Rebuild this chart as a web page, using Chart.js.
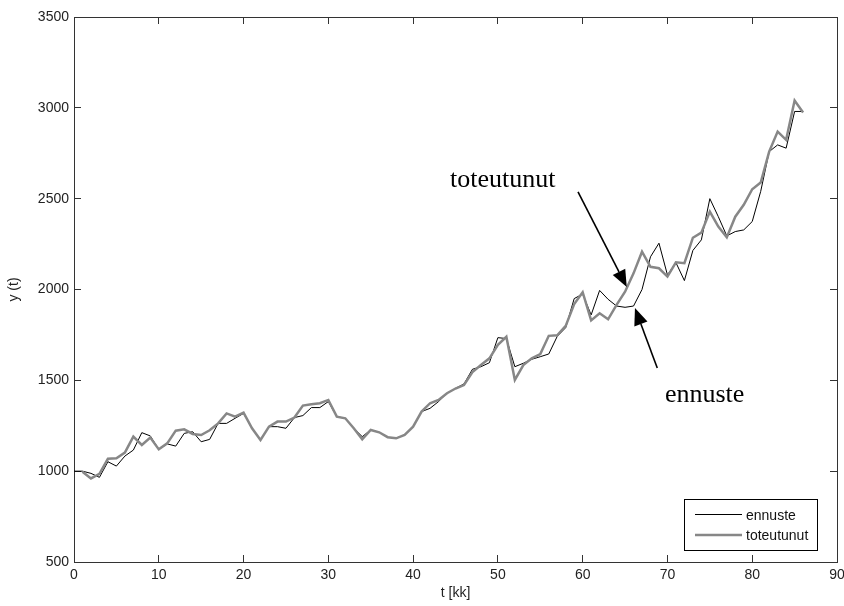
<!DOCTYPE html>
<html><head><meta charset="utf-8">
<script src="https://cdn.jsdelivr.net/npm/chart.js@4.4.0/dist/chart.umd.min.js"></script>
<style>html,body{margin:0;padding:0;background:#fff}#wrap{width:844px;height:606px}</style>
</head><body><div id="wrap"><canvas id="c" width="844" height="606"></canvas></div>
<script>
// ---- data ----
const tForecast = [0,1,2,3,4,5,6,7,8,9,10,11,12,13,14,15,16,17,18,19,20,21,22,23,24,25,26,27,28,29,30,31,32,33,34,35,36,37,38,39,40,41,42,43,44,45,46,47,48,49,50,51,52,53,54,55,56,57,58,59,60,61,62,63,64,65,66,67,68,69,70,71,72,73,74,75,76,77,78,79,80,81,82,83,84,85,86];
const ennuste = [1000,1000,988,966,1052,1028,1083,1116,1212,1194,
  1120,1150,1138,1208,1217,1162,1175,1263,1263,1291,
  1318,1236,1172,1245,1245,1236,1295,1306,1350,1350,
  1383,1300,1291,1236,1190,1227,1214,1187,1181,1200,
  1245,1328,1346,1383,1429,1456,1480,1561,1575,1597,
  1735,1730,1575,1594,1616,1630,1645,1742,1790,1950,
  1975,1860,1995,1946,1909,1902,1909,2000,2180,2255,
  2080,2148,2049,2215,2273,2500,2401,2295,2319,2328,
  2374,2540,2759,2796,2778,2980,2980];
const tActual = [1,2,3,4,5,6,7,8,9,10,11,12,13,14,15,16,17,18,19,20,21,22,23,24,25,26,27,28,29,30,31,32,33,34,35,36,37,38,39,40,41,42,43,44,45,46,47,48,49,50,51,52,53,54,55,56,57,58,59,60,61,62,63,64,65,66,67,68,69,70,71,72,73,74,75,76,77,78,79,80,81,82,83,84,85,86];
const toteutunut = [997,960,985,1068,1071,1102,1190,1144,1185,1120,
  1153,1223,1230,1205,1199,1225,1263,1318,1300,1322,
  1236,1172,1245,1273,1273,1295,1361,1368,1374,1392,
  1300,1291,1236,1176,1227,1214,1187,1181,1200,1245,
  1328,1374,1392,1429,1455,1474,1545,1584,1621,1695,
  1740,1502,1584,1621,1645,1745,1748,1800,1920,1985,
  1830,1869,1836,1915,1988,2089,2208,2125,2117,2071,
  2150,2145,2285,2313,2429,2346,2287,2401,2466,2552,
  2589,2759,2869,2824,3040,2974];
const xTicks = [0,10,20,30,40,50,60,70,80,90];
const yTicks = [500,1000,1500,2000,2500,3000,3500];
const seriesNames = ['ennuste','toteutunut'];
const xTitle = 't [kk]';
const yTitle = 'y (t)';
const noteActual = 'toteutunut';
const noteForecast = 'ennuste';

// ---- styling ----
const AXIS = '#333';
const SANS = '"Liberation Sans", Arial, sans-serif';
const SERIF = '"Liberation Serif", "Times New Roman", serif';
const GRAY = '#878787';

const pts = (xs, ys) => xs.map((x, i) => ({x, y: ys[i]}));
const setTicks = list => scale => { scale.ticks = list.map(v => ({value: v})); };
const plain = v => String(v);
const tickGrid = {display: true, drawOnChartArea: false, drawTicks: true, tickLength: -7, color: AXIS, lineWidth: 1};
const noPad = s => { s.paddingLeft = 0; s.paddingRight = 0; s.paddingTop = 0; s.paddingBottom = 0; };

const overlay = {
  id: 'overlay',
  afterDraw(chart) {
    const {ctx} = chart;
    const xs = chart.scales.x, ys = chart.scales.y;
    const P = (t, v) => [xs.getPixelForValue(t), ys.getPixelForValue(v)];
    ctx.save();
    ctx.fillStyle = '#000';
    ctx.font = '26px ' + SERIF;
    ctx.textBaseline = 'alphabetic';
    ctx.textAlign = 'left';
    let p = P(44.35, 2564); ctx.fillText(noteActual, p[0], p[1]);
    p = P(69.7, 1381); ctx.fillText(noteForecast, p[0], p[1]);
    const arrow = (a, b) => {
      const [x1, y1] = P(a[0], a[1]); const [x2, y2] = P(b[0], b[1]);
      const ang = Math.atan2(y2 - y1, x2 - x1);
      const L = 17, W = 7;
      const bx = x2 - L * Math.cos(ang), by = y2 - L * Math.sin(ang);
      ctx.strokeStyle = '#000'; ctx.lineWidth = 1.6;
      ctx.beginPath(); ctx.moveTo(x1, y1); ctx.lineTo(bx, by); ctx.stroke();
      ctx.beginPath();
      ctx.moveTo(x2, y2);
      ctx.lineTo(bx + W * Math.sin(ang), by - W * Math.cos(ang));
      ctx.lineTo(bx - W * Math.sin(ang), by + W * Math.cos(ang));
      ctx.closePath(); ctx.fillStyle = '#000'; ctx.fill();
    };
    arrow([59.45, 2537], [65.2, 2014]);
    arrow([68.8, 1568], [66.17, 1898]);
    // legend box
    const ca = chart.chartArea;
    const bw = 133, bh = 51;
    const bx0 = Math.round(ca.right - 20 - bw), by0 = Math.round(ca.bottom - 12 - bh);
    ctx.fillStyle = '#fff';
    ctx.fillRect(bx0, by0, bw, bh);
    ctx.strokeStyle = '#000'; ctx.lineWidth = 1;
    ctx.strokeRect(bx0 + 0.5, by0 + 0.5, bw, bh);
    ctx.font = '14px ' + SANS;
    ctx.textBaseline = 'middle';
    chart.data.datasets.forEach((ds, i) => {
      const yy = by0 + 15 + i * 21 + (ds.borderWidth < 2 ? 0.5 : 0);
      ctx.strokeStyle = ds.borderColor; ctx.lineWidth = ds.borderWidth;
      ctx.beginPath(); ctx.moveTo(bx0 + 11, yy); ctx.lineTo(bx0 + 58, yy); ctx.stroke();
      ctx.fillStyle = '#111';
      ctx.fillText(ds.label, bx0 + 62, Math.round(yy) + 1);
    });
    ctx.restore();
  }
};

Chart.defaults.font.family = SANS;
new Chart(document.getElementById('c'), {
  type: 'line',
  data: {
    datasets: [
      {label: seriesNames[0], data: pts(tForecast, ennuste), borderColor: '#000', borderWidth: 1, pointRadius: 0, tension: 0, order: 1},
      {label: seriesNames[1], data: pts(tActual, toteutunut), borderColor: GRAY, borderWidth: 2.5, pointRadius: 0, tension: 0, order: 0}
    ]
  },
  options: {
    responsive: false,
    animation: false,
    devicePixelRatio: 1,
    layout: {padding: 0},
    plugins: {legend: {display: false}, tooltip: {enabled: false}},
    scales: {
      x: {type: 'linear', position: 'bottom', min: 0, max: 90,
        afterBuildTicks: setTicks(xTicks),
        ticks: {font: {size: 14}, color: '#222', padding: 12, maxRotation: 0, callback: plain},
        grid: tickGrid, border: {color: AXIS, width: 1},
        title: {display: true, text: xTitle, font: {size: 14}, color: '#222', padding: {top: 0, bottom: 4}},
        afterFit: s => { s.height = 44; noPad(s); }},
      x2: {type: 'linear', position: 'top', min: 0, max: 90,
        afterBuildTicks: setTicks(xTicks),
        ticks: {display: false}, grid: tickGrid, border: {color: AXIS, width: 1},
        afterFit: s => { s.height = 17; noPad(s); }},
      y: {type: 'linear', position: 'left', min: 500, max: 3500,
        afterBuildTicks: setTicks(yTicks),
        ticks: {font: {size: 14}, color: '#222', padding: 12, callback: plain},
        grid: tickGrid, border: {color: AXIS, width: 1},
        title: {display: true, text: yTitle, font: {size: 14}, color: '#222', padding: {top: 6, bottom: 0}},
        afterFit: s => { s.width = 74; noPad(s); }},
      y2: {type: 'linear', position: 'right', min: 500, max: 3500,
        afterBuildTicks: setTicks(yTicks),
        ticks: {display: false}, grid: tickGrid, border: {color: AXIS, width: 1},
        afterFit: s => { s.width = 7; noPad(s); }}
    }
  },
  plugins: [overlay]
});
</script></body></html>
